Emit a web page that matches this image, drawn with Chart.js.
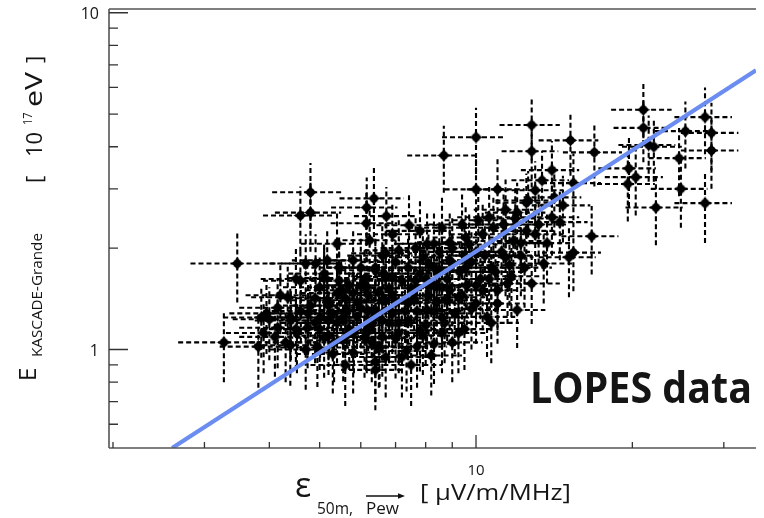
<!DOCTYPE html>
<html>
<head>
<meta charset="utf-8">
<script src="https://cdn.jsdelivr.net/npm/chart.js@4.4.1/dist/chart.umd.min.js"></script>
<style>
  html, body { margin: 0; padding: 0; background: #fff; }
  #wrap { width: 764px; height: 518px; position: relative; }
</style>
</head>
<body>
<div id="wrap"><canvas id="c" width="764" height="518"></canvas></div>
<script>
// Radio amplitude epsilon (uV/m/MHz) per event
const radioEps = [
  21.0, 21.0, 21.5, 22.0, 16.9, 27.6, 25.3, 28.4, 28.4, 24.6,
  19.7, 20.3, 19.6, 24.8, 22.2, 27.6, 15.2, 15.4, 14.7, 14.5,
  16.7, 12.8, 12.8, 10.0, 8.67, 10.0, 11.0, 14.0, 13.4, 13.0,
  14.15, 15.4, 15.1, 12.5, 12.0, 9.25, 13.7, 6.36, 6.72, 7.43,
  6.24, 4.80, 4.80, 4.59, 3.47, 3.27, 3.81, 3.86, 6.16, 4.70,
  4.91, 5.45, 5.10, 4.59, 4.34, 4.15, 4.39, 4.10, 4.39, 4.74,
  5.01, 5.17, 5.40, 5.64, 5.82, 5.33, 4.95, 6.16, 6.64, 6.36,
  6.52, 6.16, 7.65, 8.3, 8.9, 9.55, 10.1, 10.6, 11.4, 12.0,
  12.6, 14.0, 13.0, 12.2, 11.4, 12.4, 13.5, 10.7, 12.8, 11.5,
  10.3, 9.55, 8.9, 8.3, 8.05, 7.1, 6.7, 6.4, 6.9, 7.65,
  8.6, 9.25, 10.0, 11.0, 10.7, 8.6, 8.05, 7.4, 6.7, 6.4,
  7.1, 7.8, 6.6, 6.15, 7.35, 8.3, 6.7, 6.4, 5.0, 5.45,
  5.8, 6.0, 5.55, 5.2, 4.75, 4.52, 4.15, 3.95, 3.9, 5.1,
  5.55, 6.1, 6.6, 6.6, 6.4, 5.17, 5.8, 5.4, 6.15, 5.2,
  5.6, 6.2, 6.8, 7.2, 7.8, 8.2, 8.8, 9.3, 9.8, 10.4,
  11.2, 11.8, 12.5, 13.2, 5.0, 5.4, 5.9, 6.3, 6.9, 7.3,
  7.6, 8.1, 8.4, 8.9, 9.1, 9.6, 10.2, 10.9, 11.6, 4.4,
  4.6, 4.3, 4.7, 5.3, 5.8, 6.5, 7.0, 7.7, 8.0, 8.7,
  9.5, 10.5, 4.9, 5.7, 6.1, 6.6, 7.0, 7.9, 8.5, 9.0,
  9.7, 10.3, 10.8, 11.3, 11.9, 6.0, 6.9, 7.8, 8.6, 9.4,
  5.1, 4.5, 4.2, 6.4, 7.2, 8.2, 9.0, 5.6, 7.5, 4.0,
  5.3, 5.9, 6.5, 7.0, 7.5, 8.0, 8.5, 9.0, 9.5, 10.0,
  4.8, 5.5, 6.2, 6.8, 7.4, 8.3, 8.8, 9.4, 10.0, 10.6,
  5.2, 5.7, 6.3, 7.1, 7.9, 8.6, 9.8, 11.0, 11.7, 12.2,
  6.0, 6.7, 7.4, 8.1, 4.5, 4.9, 5.6, 6.9, 7.7, 8.4
];
// Primary energy from KASCADE-Grande (10^17 eV) per event
const grandeE = [
  5.15, 4.55, 4.05, 4.0, 3.85, 4.9, 4.45, 4.4, 3.9, 3.7,
  3.45, 3.25, 3.1, 3.0, 2.64, 2.72, 4.18, 3.12, 2.68, 2.39,
  2.17, 4.64, 3.88, 4.27, 3.77, 2.99, 2.99, 3.41, 3.18, 2.97,
  2.83, 1.94, 1.88, 2.73, 1.31, 1.12, 2.07, 2.81, 2.49, 2.34,
  2.11, 2.93, 2.55, 2.50, 1.80, 1.05, 1.02, 1.245, 2.64, 1.80,
  1.80, 1.75, 1.63, 1.60, 1.43, 1.33, 1.245, 1.09, 1.03, 1.16,
  1.245, 1.40, 1.47, 1.31, 1.12, 1.05, 1.014, 1.53, 1.68, 1.245,
  1.014, 1.12, 2.0, 2.06, 2.08, 2.15, 2.42, 2.47, 2.6, 2.55,
  2.77, 2.47, 2.2, 2.07, 1.88, 1.75, 1.80, 1.75, 1.57, 1.57,
  1.50, 1.75, 1.84, 1.75, 2.06, 1.97, 1.93, 1.75, 1.64, 1.60,
  1.53, 1.43, 1.37, 1.37, 1.20, 1.245, 1.31, 1.37, 1.40, 1.31,
  1.20, 1.14, 1.09, 1.14, 0.99, 1.04, 0.95, 0.87, 1.53, 1.60,
  1.47, 1.33, 1.245, 1.22, 1.28, 1.12, 1.16, 1.28, 1.12, 1.085,
  1.065, 1.085, 1.22, 1.40, 1.72, 1.84, 1.84, 2.06, 2.37, 1.35,
  1.42, 1.45, 1.52, 1.6, 1.68, 1.55, 1.62, 1.7, 1.82, 1.9,
  1.95, 2.1, 2.25, 2.35, 1.15, 1.2, 1.25, 1.18, 1.28, 1.3,
  1.42, 1.45, 1.38, 1.5, 1.28, 1.55, 1.62, 1.7, 1.78, 1.22,
  1.3, 1.05, 1.0, 0.97, 0.98, 1.02, 1.08, 1.02, 1.18, 1.2,
  1.15, 1.25, 1.42, 1.55, 1.62, 1.9, 1.82, 1.88, 1.95, 2.0,
  2.05, 2.2, 2.3, 2.35, 2.45, 1.75, 2.2, 2.25, 2.3, 2.35,
  1.68, 1.62, 1.45, 0.92, 0.95, 0.96, 1.05, 0.9, 0.9, 1.23,
  1.28, 1.38, 1.48, 1.38, 1.52, 1.62, 1.72, 1.8, 1.9, 1.95,
  1.35, 1.5, 1.3, 1.2, 1.22, 1.3, 1.4, 1.45, 1.55, 1.62,
  1.1, 1.15, 1.05, 1.12, 1.1, 1.12, 1.32, 1.5, 1.65, 1.9,
  1.55, 1.65, 1.75, 1.8, 1.15, 1.2, 1.3, 1.45, 1.3, 1.55
];
// Uncertainty on epsilon
const radioEpsErr = [
  2.8, 2.6, 2.7, 2.9, 2.2, 3.5, 3.2, 3.6, 3.6, 3.1,
  2.5, 2.6, 2.5, 3.1, 2.8, 3.5, 2.0, 2.0, 1.9, 1.9,
  2.1, 1.7, 1.6, 1.4, 1.3, 1.3, 1.4, 1.8, 1.7, 1.7,
  1.8, 2.0, 1.9, 1.6, 1.6, 1.3, 1.7, 0.9, 0.9, 1.0,
  0.9, 0.75, 0.7, 0.7, 0.65, 0.6, 0.6, 0.6, 0.9, 0.7,
  0.7, 0.8, 0.75, 0.7, 0.65, 0.65, 0.65, 0.6, 0.65, 0.7,
  0.75, 0.75, 0.8, 0.8, 0.85, 0.8, 0.75, 0.9, 0.95, 0.9,
  0.95, 0.9, 1.1, 1.2, 1.2, 1.3, 1.4, 1.4, 1.5, 1.6,
  1.7, 1.8, 1.7, 1.6, 1.5, 1.6, 1.8, 1.4, 1.7, 1.5,
  1.4, 1.3, 1.2, 1.1, 1.1, 1.0, 0.95, 0.9, 1.0, 1.1,
  1.2, 1.3, 1.3, 1.4, 1.4, 1.2, 1.1, 1.0, 0.95, 0.9,
  1.0, 1.1, 0.95, 0.9, 1.0, 1.2, 0.95, 0.9, 0.75, 0.8,
  0.85, 0.85, 0.8, 0.75, 0.7, 0.7, 0.65, 0.6, 0.6, 0.75,
  0.8, 0.9, 0.95, 0.95, 0.9, 0.75, 0.85, 0.8, 0.9, 0.75,
  0.8, 0.9, 0.95, 1.0, 1.1, 1.1, 1.2, 1.3, 1.3, 1.4,
  1.5, 1.6, 1.7, 1.7, 0.75, 0.8, 0.85, 0.9, 1.0, 1.0,
  1.1, 1.1, 1.2, 1.2, 1.3, 1.3, 1.4, 1.5, 1.5, 0.65,
  0.7, 0.65, 0.7, 0.8, 0.85, 0.95, 1.0, 1.1, 1.1, 1.2,
  1.3, 1.4, 0.7, 0.8, 0.9, 0.95, 1.0, 1.1, 1.2, 1.2,
  1.3, 1.4, 1.4, 1.5, 1.6, 0.85, 1.0, 1.1, 1.2, 1.3,
  0.75, 0.65, 0.6, 0.9, 1.0, 1.2, 1.3, 0.8, 1.1, 0.6,
  0.75, 0.85, 0.9, 1.0, 1.05, 1.1, 1.2, 1.25, 1.3, 1.4,
  0.7, 0.8, 0.85, 0.95, 1.0, 1.15, 1.2, 1.3, 1.4, 1.5,
  0.75, 0.8, 0.9, 1.0, 1.1, 1.2, 1.35, 1.5, 1.6, 1.7,
  0.85, 0.95, 1.05, 1.1, 0.65, 0.7, 0.8, 0.95, 1.1, 1.2
];
// Uncertainty on energy
const grandeEErr = [
  1.1, 0.95, 0.9, 0.85, 0.8, 1.1, 1.0, 1.0, 0.9, 0.85,
  0.8, 0.75, 0.7, 0.7, 0.6, 0.65, 0.9, 0.7, 0.6, 0.55,
  0.5, 1.0, 0.85, 0.95, 0.85, 0.7, 0.7, 0.75, 0.7, 0.65,
  0.65, 0.45, 0.45, 0.6, 0.3, 0.27, 0.5, 0.65, 0.55, 0.55,
  0.5, 0.65, 0.6, 0.55, 0.42, 0.25, 0.25, 0.3, 0.6, 0.4,
  0.4, 0.4, 0.38, 0.38, 0.33, 0.3, 0.3, 0.26, 0.25, 0.28,
  0.3, 0.33, 0.35, 0.3, 0.27, 0.25, 0.24, 0.36, 0.4, 0.3,
  0.24, 0.27, 0.47, 0.48, 0.5, 0.5, 0.55, 0.57, 0.6, 0.58,
  0.62, 0.57, 0.5, 0.48, 0.44, 0.42, 0.43, 0.42, 0.38, 0.38,
  0.36, 0.42, 0.44, 0.42, 0.48, 0.46, 0.45, 0.42, 0.4, 0.38,
  0.37, 0.34, 0.33, 0.33, 0.29, 0.3, 0.31, 0.33, 0.33, 0.31,
  0.29, 0.28, 0.26, 0.27, 0.24, 0.25, 0.23, 0.21, 0.36, 0.38,
  0.35, 0.32, 0.3, 0.29, 0.31, 0.27, 0.28, 0.31, 0.27, 0.26,
  0.26, 0.26, 0.29, 0.33, 0.41, 0.44, 0.44, 0.48, 0.55, 0.32,
  0.34, 0.35, 0.36, 0.38, 0.4, 0.37, 0.39, 0.41, 0.43, 0.45,
  0.46, 0.5, 0.53, 0.55, 0.28, 0.29, 0.3, 0.28, 0.31, 0.31,
  0.34, 0.35, 0.33, 0.36, 0.31, 0.37, 0.39, 0.41, 0.43, 0.29,
  0.31, 0.25, 0.24, 0.23, 0.24, 0.25, 0.26, 0.25, 0.28, 0.29,
  0.28, 0.3, 0.34, 0.37, 0.39, 0.45, 0.43, 0.45, 0.46, 0.47,
  0.48, 0.52, 0.54, 0.55, 0.57, 0.42, 0.52, 0.53, 0.54, 0.55,
  0.4, 0.38, 0.34, 0.22, 0.23, 0.23, 0.25, 0.22, 0.22, 0.3,
  0.31, 0.33, 0.36, 0.33, 0.36, 0.39, 0.41, 0.43, 0.46, 0.47,
  0.32, 0.36, 0.31, 0.29, 0.29, 0.31, 0.34, 0.35, 0.37, 0.39,
  0.26, 0.28, 0.25, 0.27, 0.26, 0.27, 0.32, 0.36, 0.4, 0.46,
  0.37, 0.4, 0.42, 0.43, 0.28, 0.29, 0.31, 0.35, 0.31, 0.37
];
// Calibration fit line end points
const fitEps = [2.6, 34.6];
const fitE = [0.51, 6.75];

// Axis ranges and ticks
const xRange = [1.965, 34.6];
const yRange = [0.51, 10.26];
const xMajorTicks = [10];
const xMinorTicks = [2, 3, 4, 5, 6, 7, 8, 9, 20, 30];
const yMajorTicks = [1, 10];
const yMinorTicks = [0.6, 0.7, 0.8, 0.9, 2, 3, 4, 5, 6, 7, 8, 9];
const xTickLabels = ['10'];
const yTickLabels = ['1', '10'];

const FONT = '"Open Sans", "Noto Sans", sans-serif';

// Filled round marker with four short spikes
function makeMarker() {
  const s = 15, m = s / 2;
  const cv = document.createElement('canvas');
  cv.width = s; cv.height = s;
  const g = cv.getContext('2d');
  g.fillStyle = '#000';
  const r = 7, k = 1.8;
  g.beginPath();
  g.moveTo(m, m - r);
  g.quadraticCurveTo(m + k, m - k, m + r, m);
  g.quadraticCurveTo(m + k, m + k, m, m + r);
  g.quadraticCurveTo(m - k, m + k, m - r, m);
  g.quadraticCurveTo(m - k, m - k, m, m - r);
  g.fill();
  g.beginPath();
  g.arc(m, m, 4.2, 0, Math.PI * 2);
  g.fill();
  return cv;
}

function drawText(ctx, s, x, y, font, opt) {
  opt = opt || {};
  ctx.save();
  ctx.font = font;
  ctx.fillStyle = opt.color || '#151515';
  ctx.textAlign = opt.align || 'left';
  ctx.textBaseline = opt.baseline || 'alphabetic';
  ctx.translate(x, y);
  if (opt.rot) ctx.rotate(opt.rot);
  if (opt.width) {
    const w = ctx.measureText(s).width;
    ctx.scale(opt.width / w, 1);
  }
  ctx.fillText(s, 0, 0);
  ctx.restore();
}

// Dashed error bars under the markers
const errorBars = {
  id: 'errorBars',
  beforeDatasetsDraw(chart) {
    const { ctx, chartArea: a } = chart;
    const xs = chart.scales.x, ys = chart.scales.y;
    ctx.save();
    ctx.beginPath();
    ctx.rect(a.left, a.top, a.right - a.left, a.bottom - a.top);
    ctx.clip();
    ctx.strokeStyle = '#000';
    ctx.lineWidth = 2.1;
    ctx.setLineDash([5, 3]);
    for (let i = 0; i < radioEps.length; i++) {
      const px = xs.getPixelForValue(radioEps[i]);
      const py = ys.getPixelForValue(grandeE[i]);
      const x0 = xs.getPixelForValue(Math.max(radioEps[i] - radioEpsErr[i], 0.01));
      const x1 = xs.getPixelForValue(radioEps[i] + radioEpsErr[i]);
      const y0 = ys.getPixelForValue(Math.max(grandeE[i] - grandeEErr[i], 0.01));
      const y1 = ys.getPixelForValue(grandeE[i] + grandeEErr[i]);
      ctx.beginPath();
      ctx.moveTo(x0, py); ctx.lineTo(x1, py);
      ctx.moveTo(px, y0); ctx.lineTo(px, y1);
      ctx.stroke();
    }
    ctx.restore();
  }
};

// Frame, inward ticks, tick labels and axis titles
const frame = {
  id: 'frame',
  afterDraw(chart) {
    const { ctx, chartArea: a } = chart;
    const xs = chart.scales.x, ys = chart.scales.y;
    ctx.save();
    ctx.strokeStyle = '#555';
    ctx.lineWidth = 1.6;
    ctx.beginPath();
    ctx.moveTo(a.left, a.top); ctx.lineTo(a.right, a.top);
    ctx.moveTo(a.left, a.top); ctx.lineTo(a.left, a.bottom);
    ctx.moveTo(a.left, a.bottom); ctx.lineTo(a.right, a.bottom);
    ctx.stroke();

    ctx.strokeStyle = '#333';
    ctx.lineWidth = 1.3;
    ctx.beginPath();
    yMajorTicks.forEach(v => { const y = ys.getPixelForValue(v); ctx.moveTo(a.left, y); ctx.lineTo(a.left + 19, y); });
    yMinorTicks.forEach(v => { const y = ys.getPixelForValue(v); ctx.moveTo(a.left, y); ctx.lineTo(a.left + 9, y); });
    xMajorTicks.forEach(v => { const x = xs.getPixelForValue(v); ctx.moveTo(x, a.bottom); ctx.lineTo(x, a.bottom - 13); });
    xMinorTicks.forEach(v => { const x = xs.getPixelForValue(v); ctx.moveTo(x, a.bottom); ctx.lineTo(x, a.bottom - 6); });
    ctx.stroke();
    ctx.restore();

    // tick labels
    yMajorTicks.forEach((v, i) => {
      drawText(ctx, yTickLabels[i], 99, ys.getPixelForValue(v) + 1.5, '16px ' + FONT, { align: 'right', baseline: 'middle' });
    });
    xMajorTicks.forEach((v, i) => {
      drawText(ctx, xTickLabels[i], xs.getPixelForValue(v), 475, '15px ' + FONT, { align: 'center' });
    });

    // x-axis title
    drawText(ctx, 'ε', 295, 497, '34px ' + FONT);
    drawText(ctx, '50m,', 317, 514, '16px ' + FONT, { width: 36 });
    drawText(ctx, 'Pew', 366, 514, '16px ' + FONT, { width: 33 });
    ctx.save();
    ctx.strokeStyle = '#111';
    ctx.fillStyle = '#111';
    ctx.lineWidth = 1.3;
    ctx.beginPath(); ctx.moveTo(366, 496); ctx.lineTo(400, 496); ctx.stroke();
    ctx.beginPath(); ctx.moveTo(405, 496); ctx.lineTo(398, 493.2); ctx.lineTo(398, 498.8); ctx.closePath(); ctx.fill();
    ctx.restore();
    drawText(ctx, '[ μV/m/MHz]', 420, 500, '21px ' + FONT, { width: 151 });

    // y-axis title (rotated)
    const rot = -Math.PI / 2;
    drawText(ctx, 'E', 36, 381, '24px ' + FONT, { rot });
    drawText(ctx, 'KASCADE-Grande', 42, 357, '14px ' + FONT, { rot, width: 124 });
    drawText(ctx, '[', 42, 183, '22px ' + FONT, { rot });
    drawText(ctx, '10', 42, 157, '22px ' + FONT, { rot, width: 25 });
    drawText(ctx, '17', 32, 125, '12px ' + FONT, { rot, width: 12.5 });
    drawText(ctx, 'eV', 42, 107, '23px ' + FONT, { rot, width: 35 });
    drawText(ctx, ']', 42, 63, '22px ' + FONT, { rot });

    // in-plot label
    drawText(ctx, 'LOPES data', 530, 403, 'bold 43px ' + FONT, { width: 222 });
  }
};

const marker = makeMarker();

new Chart(document.getElementById('c'), {
  data: {
    datasets: [
      {
        type: 'line',
        data: fitEps.map((x, i) => ({ x, y: fitE[i] })),
        borderColor: '#6b8cf0',
        borderWidth: 4.2,
        pointRadius: 0,
        fill: false,
        order: 0
      },
      {
        type: 'scatter',
        data: radioEps.map((x, i) => ({ x, y: grandeE[i] })),
        pointStyle: marker,
        pointRadius: 7,
        order: 1
      }
    ]
  },
  options: {
    responsive: false,
    animation: false,
    events: [],
    layout: { padding: { left: 109, top: 9, right: 0, bottom: 70 } },
    plugins: { legend: { display: false }, tooltip: { enabled: false } },
    scales: {
      x: { type: 'logarithmic', min: xRange[0], max: xRange[1], display: false },
      y: { type: 'logarithmic', min: yRange[0], max: yRange[1], display: false }
    }
  },
  plugins: [errorBars, frame]
});
</script>
</body>
</html>
